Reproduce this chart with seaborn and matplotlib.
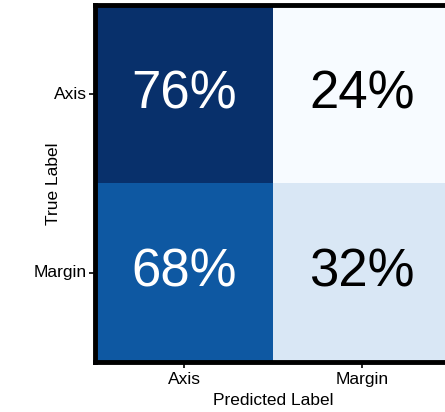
import numpy as np
import pandas as pd
import matplotlib
matplotlib.use("Agg")
import matplotlib.pyplot as plt
import seaborn as sns

# Normalised confusion matrix (rows: true class, columns: predicted class)
classes = ["Axis", "Margin"]
axis_row = [0.76, 0.24]
margin_row = [0.68, 0.32]

sns.set_style("white")
plt.rcParams["font.family"] = ["Liberation Sans", "DejaVu Sans"]
plt.rcParams["text.color"] = "black"
plt.rcParams["axes.labelcolor"] = "black"
plt.rcParams["xtick.color"] = "black"
plt.rcParams["ytick.color"] = "black"

cm = pd.DataFrame([axis_row, margin_row], index=classes, columns=classes)
labels = cm.map(lambda v: f"{v * 100:.0f}%")

fig = plt.figure(figsize=(4.45, 4.12), dpi=100)
ax = fig.add_axes([0.2135, 0.1214, 0.8, 0.8665])

sns.heatmap(
    cm, ax=ax, cmap="Blues", cbar=False, annot=labels, fmt="",
    annot_kws={"fontsize": 38}, square=False,
)

# white text on dark cells, black on light cells
norm_mid = (cm.values.min() + cm.values.max()) / 2
for txt, val in zip(ax.texts, cm.values.ravel()):
    txt.set_color("white" if val > norm_mid else "black")

for spine in ax.spines.values():
    spine.set_visible(True)
    spine.set_color("black")
    spine.set_linewidth(3.5)

ax.tick_params(axis="both", which="both", length=4, width=1.2, color="black",
               labelsize=12.5, pad=2, bottom=True, left=True,
               labelcolor="black")
ax.tick_params(axis="x", pad=3.5)
ax.set_yticklabels(classes, rotation=0)
ax.set_xticklabels(classes, rotation=0)
ax.set_xlabel("Predicted Label", fontsize=12.5, labelpad=4)
ax.set_ylabel("True Label", fontsize=12.5)
ax.yaxis.set_label_coords(-0.095, 0.5)

fig.savefig("out.png", dpi=100)
